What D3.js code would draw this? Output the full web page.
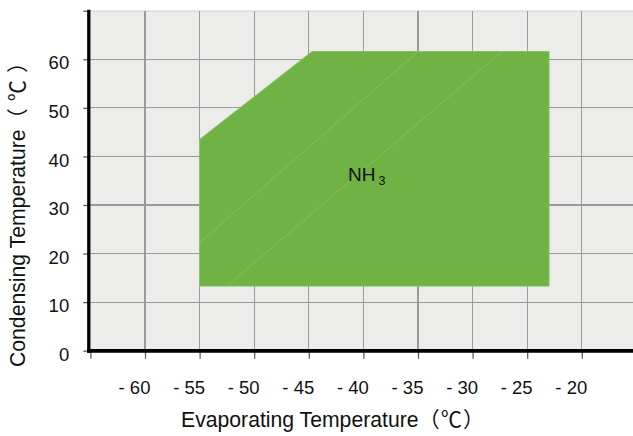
<!DOCTYPE html>
<html>
<head>
<meta charset="utf-8">
<script src="https://cdn.jsdelivr.net/npm/d3@7"></script>
<style>
  html, body { margin: 0; padding: 0; background: #ffffff; }
  svg { display: block; }
  text { font-family: "Liberation Sans", Arial, "Noto Sans CJK SC", sans-serif; fill: #111; }
</style>
</head>
<body>
<svg id="chart" width="633" height="436"></svg>
<script>
// Operating envelope of the NH3 unit (evaporating vs condensing temperature, °C)
const envelopeEvap = [-55, -55, -44.7, -23, -23];
const envelopeCond = [13.3, 43.5, 61.6, 61.6, 13.3];

// faint seams across the filled region
const seamEvapStart = [-55, -52.5];
const seamCondStart = [22.2, 13.3];
const seamEvapEnd = [-35, -27.3];
const seamCondEnd = [61.6, 61.6];

const xTicks = [-60, -55, -50, -45, -40, -35, -30, -25, -20];
const xTickLabels = ["- 60", "- 55", "- 50", "- 45", "- 40", "- 35", "- 30", "- 25", "- 20"];
const yTicks = [0, 10, 20, 30, 40, 50, 60];
const regionLabel = "NH";
const regionLabelSub = "3";
const xTitle = "Evaporating Temperature";
const yTitle = "Condensing Temperature";
const unitText = "（℃）";

const W = 633, H = 436;
const plotLeft = 90.4, plotTop = 10.7, plotBottom = 350.7;

const x = d3.scaleLinear().domain([-65, -15]).range([plotLeft, 636.4]);
const y = d3.scaleLinear().domain([0, 70]).range([plotBottom, plotTop]);

const svg = d3.select("#chart");

// plot background
svg.append("rect")
  .attr("x", plotLeft).attr("y", plotTop)
  .attr("width", W - plotLeft).attr("height", plotBottom - plotTop)
  .attr("fill", "#ecedea");

// top border of plot
svg.append("line")
  .attr("x1", plotLeft).attr("x2", W)
  .attr("y1", plotTop + 0.5).attr("y2", plotTop + 0.5)
  .attr("stroke", "#dcdcda").attr("stroke-width", 1.5);

// grid
const grid = svg.append("g").attr("stroke", "#9a9a9a").attr("stroke-width", 1.2)
  .attr("shape-rendering", "crispEdges");
grid.selectAll("line.v").data(xTicks).join("line")
  .attr("class", "v")
  .attr("x1", d => x(d)).attr("x2", d => x(d))
  .attr("y1", plotTop).attr("y2", plotBottom);
grid.selectAll("line.h").data(yTicks.filter(d => d > 0)).join("line")
  .attr("class", "h")
  .attr("x1", plotLeft).attr("x2", W)
  .attr("y1", d => y(d)).attr("y2", d => y(d));

// envelope polygon
const pts = envelopeEvap.map((e, i) => [x(e), y(envelopeCond[i])]);
svg.append("path")
  .attr("d", d3.line()(pts) + "Z")
  .attr("fill", "#70b243")
  .attr("stroke", "#86c35f")
  .attr("stroke-width", 1);

// seams
svg.append("g").selectAll("line").data(seamEvapStart).join("line")
  .attr("x1", d => x(d)).attr("y1", (d, i) => y(seamCondStart[i]))
  .attr("x2", (d, i) => x(seamEvapEnd[i])).attr("y2", (d, i) => y(seamCondEnd[i]))
  .attr("stroke", "#a9d48e").attr("stroke-width", 0.6).attr("opacity", 0.6);

// region label
const lbl = svg.append("text")
  .attr("x", x(-41.4)).attr("y", y(35.0))
  .attr("font-size", 19);
lbl.append("tspan").text(regionLabel);
lbl.append("tspan").attr("font-size", 12.5).attr("dx", 3).attr("dy", 4.5).text(regionLabelSub);

// y axis
const yAxis = d3.axisLeft(y).tickValues([...yTicks, 70]).tickSize(5).tickPadding(14)
  .tickFormat(d => d === 70 ? "" : d);
const gy = svg.append("g").attr("transform", `translate(${plotLeft - 2.2},0)`).call(yAxis);
gy.select(".domain").remove();
gy.selectAll(".tick line").attr("stroke", "#555").attr("stroke-width", 1.2);
gy.selectAll(".tick text").attr("font-size", 18.5).attr("fill", "#111").attr("dy", "0.52em");

// x axis
const xAxis = d3.axisBottom(x).tickValues([-65, ...xTicks]).tickSize(7).tickPadding(22)
  .tickFormat(d => { const i = xTicks.indexOf(d); return i < 0 ? "" : xTickLabels[i]; });
const gx = svg.append("g").attr("transform", `translate(0,${plotBottom + 1})`).call(xAxis);
gx.select(".domain").remove();
gx.selectAll(".tick line").attr("stroke", "#555").attr("stroke-width", 1.2);
gx.selectAll(".tick text").attr("font-size", 18.5).attr("fill", "#111").attr("dx", -11);

// heavy axis lines
svg.append("line")
  .attr("x1", plotLeft - 1.6).attr("x2", plotLeft - 1.6)
  .attr("y1", plotTop - 1).attr("y2", plotBottom + 2)
  .attr("stroke", "#000").attr("stroke-width", 3.3);
svg.append("line")
  .attr("x1", plotLeft - 3.2).attr("x2", W)
  .attr("y1", plotBottom + 0.2).attr("y2", plotBottom + 0.2)
  .attr("stroke", "#000").attr("stroke-width", 3.6);

// titles
const xt = svg.append("text")
  .attr("x", 181).attr("y", 427)
  .attr("text-anchor", "start").attr("font-size", 21.2);
xt.append("tspan").text(xTitle);
xt.append("tspan").attr("letter-spacing", 1).text(unitText);

const yt = svg.append("text")
  .attr("transform", `translate(24.5,367) rotate(-90)`)
  .attr("text-anchor", "start").attr("font-size", 21.2);
yt.append("tspan").text(yTitle);
yt.append("tspan").attr("letter-spacing", 7).text(unitText);
</script>
</body>
</html>
